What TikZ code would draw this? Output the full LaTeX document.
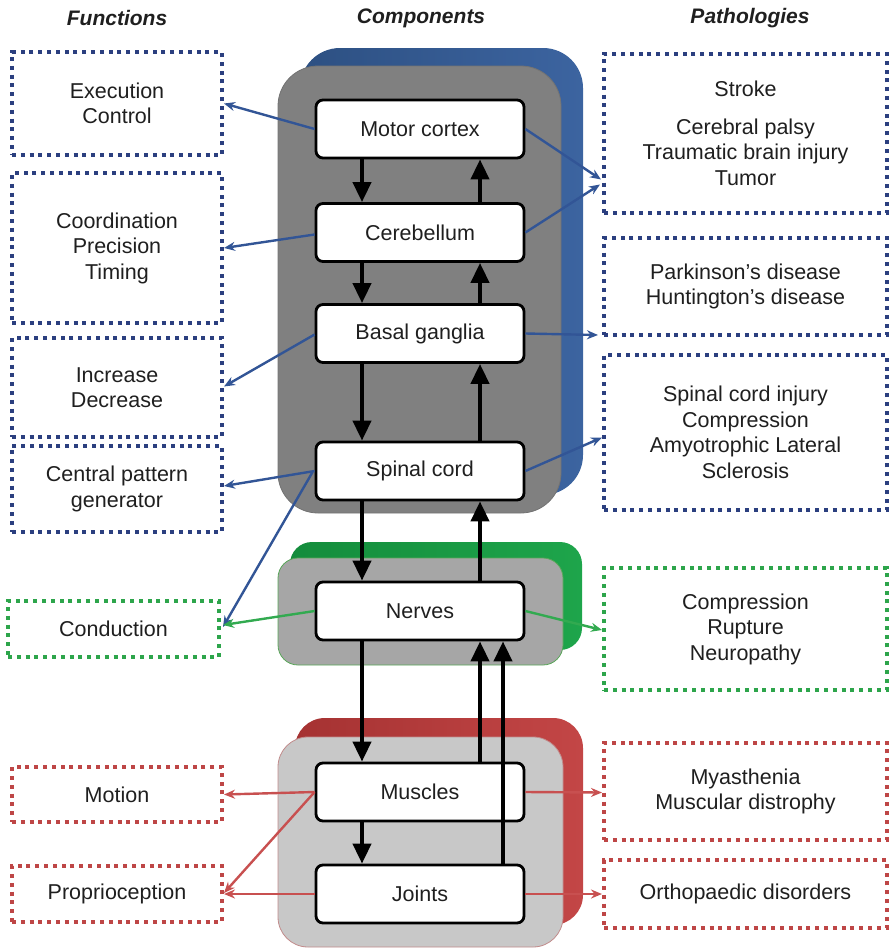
\documentclass[tikz,border=0pt]{standalone}
\usepackage{fontspec}
\setmainfont{Liberation Sans}
\usetikzlibrary{arrows.meta,calc}
\definecolor{dblue}{RGB}{43,63,127}
\definecolor{cblue}{RGB}{50,85,150}
\definecolor{bback}{RGB}{45,80,130}
\definecolor{bbackl}{RGB}{60,100,160}
\definecolor{dgreen}{RGB}{45,165,75}
\definecolor{cgreen}{RGB}{50,170,80}
\definecolor{gback}{RGB}{20,140,60}
\definecolor{gbackl}{RGB}{30,165,75}
\definecolor{dred}{RGB}{190,70,70}
\definecolor{cred}{RGB}{200,80,80}
\definecolor{rback}{RGB}{165,50,50}
\definecolor{rbackl}{RGB}{195,70,70}
\definecolor{gfront}{RGB}{128,128,128}
\definecolor{gfrontg}{RGB}{166,166,166}
\definecolor{gfrontr}{RGB}{200,200,200}
\begin{document}
\begin{tikzpicture}[x=1pt,y=-1pt,
 txt/.style={font=\fontsize{21.5}{25.5}\selectfont, align=center, text=black!88},
 dotbox/.style={txt, fill=white, line width=4pt, dash pattern=on 4pt off 4.8pt, inner sep=0pt},
 comp/.style={txt, draw=black, fill=white, line width=2.8pt, rounded corners=7pt, minimum width=208pt, minimum height=58pt, inner sep=0pt},
 bigarrow/.style={line width=4pt, -{Triangle[width=18pt,length=20pt]}},
 conn/.style={line width=2.4pt, -{Stealth[length=11pt,width=9pt]}},
 hdr/.style={font=\fontsize{21}{25}\selectfont\bfseries\itshape, text=black!88}]
\useasboundingbox (0,0) rectangle (889,948);
% containers
\shade[left color=bback, right color=bbackl, rounded corners=40pt] (300,48) rectangle (583,495);
\filldraw[fill=gfront, draw=black!55, line width=0.8pt, rounded corners=40pt] (278,66) rectangle (561,513);
\shade[left color=gback, right color=gbackl, rounded corners=22pt] (290,542) rectangle (582,650);
\filldraw[fill=gfrontg, draw=green!30!gray, line width=0.8pt, rounded corners=20pt] (278,558) rectangle (563,665);
\shade[left color=rback, right color=rbackl, rounded corners=30pt] (295,718) rectangle (583,925);
\filldraw[fill=gfrontr, draw=red!30!gray!70, line width=0.8pt, rounded corners=30pt] (278,737) rectangle (563,947);
% headers
\node[hdr] (h1) at (117,18) {Functions};
\node[hdr] (h2) at (421,18) {Components};
\node[hdr] (h3) at (750,18) {Pathologies};
% function boxes
\node[dotbox, draw=dblue, minimum width=210pt, minimum height=103pt] (ex) at (117,103.5) {Execution\\Control};
\node[dotbox, draw=dblue, minimum width=210pt, minimum height=150pt] (co) at (117,248) {Coordination\\Precision\\Timing};
\node[dotbox, draw=dblue, minimum width=210pt, minimum height=99pt] (inc) at (117,387.5) {Increase\\Decrease};
\node[dotbox, draw=dblue, minimum width=210pt, minimum height=86pt] (cpg) at (117,489) {Central pattern\\generator};
\node[dotbox, draw=dgreen, minimum width=211pt, minimum height=56pt] (con) at (113.5,629) {Conduction};
\node[dotbox, draw=dred, minimum width=210pt, minimum height=55pt] (mo) at (117,794.5) {Motion};
\node[dotbox, draw=dred, minimum width=210pt, minimum height=56pt] (pr) at (117,894) {Proprioception};
% pathology boxes
\node[dotbox, draw=dblue, minimum width=283pt, minimum height=159pt] (st) at (745.5,133.5) {Stroke\\[12pt]Cerebral palsy\\Traumatic brain injury\\Tumor};
\node[dotbox, draw=dblue, minimum width=283pt, minimum height=97pt] (pk) at (745.5,286.5) {Parkinson’s disease\\Huntington’s disease};
\node[dotbox, draw=dblue, minimum width=283pt, minimum height=155pt] (sc) at (745.5,432.5) {Spinal cord injury\\Compression\\Amyotrophic Lateral\\Sclerosis};
\node[dotbox, draw=dgreen, minimum width=283pt, minimum height=122pt] (cm) at (745.5,629) {Compression\\Rupture\\Neuropathy};
\node[dotbox, draw=dred, minimum width=283pt, minimum height=97pt] (my) at (745.5,791.5) {Myasthenia\\Muscular distrophy};
\node[dotbox, draw=dred, minimum width=283pt, minimum height=68pt] (or) at (745.5,894) {Orthopaedic disorders};
% components
\node[comp] (mc) at (420,129) {Motor cortex};
\node[comp] (cb) at (420,232.5) {Cerebellum};
\node[comp] (bg) at (420,333.5) {Basal ganglia};
\node[comp] (sp) at (420,471) {Spinal cord};
\node[comp] (nv) at (420,611) {Nerves};
\node[comp] (mu) at (420,792) {Muscles};
\node[comp] (jo) at (420,894) {Joints};
\coordinate (dx) at (362,0);
\coordinate (ux) at (480,0);
\coordinate (ux2) at (503,0);
% vertical arrows
\draw[bigarrow] (mc.south -| dx) -- (cb.north -| dx);
\draw[bigarrow] (cb.south -| dx) -- (bg.north -| dx);
\draw[bigarrow] (bg.south -| dx) -- (sp.north -| dx);
\draw[bigarrow] (sp.south -| dx) -- (nv.north -| dx);
\draw[bigarrow] (nv.south -| dx) -- (mu.north -| dx);
\draw[bigarrow] (mu.south -| dx) -- (jo.north -| dx);
\draw[bigarrow] (cb.north -| ux) -- (mc.south -| ux);
\draw[bigarrow] (bg.north -| ux) -- (cb.south -| ux);
\draw[bigarrow] (sp.north -| ux) -- (bg.south -| ux);
\draw[bigarrow] (nv.north -| ux) -- (sp.south -| ux);
\draw[bigarrow] (mu.north -| ux) -- (nv.south -| ux);
\draw[bigarrow] (jo.north -| ux2) -- (nv.south -| ux2);
% blue connectors
\draw[conn, cblue] (mc.west) -- (ex.east);
\draw[conn, cblue] (mc.east) -- ($(st.west)+(-1,46)$);
\draw[conn, cblue] (cb.east) -- ($(st.west)+(-2,51)$);
\draw[conn, cblue] ($(cb.west)+(0,2)$) -- (co.east);
\draw[conn, cblue] ($(bg.west)+(0,1)$) -- ($(inc.east)+(0,-1)$);
\draw[conn, cblue] (bg.east) -- ($(pk.south west)+(-4,-2)$);
\draw[conn, cblue] (sp.west) -- ($(cpg.east)+(0,-3)$);
\draw[conn, cblue] ($(sp.west)+(-2,1)$) -- ($(con.east)+(2,-2)$);
\draw[conn, cblue] (sp.east) -- ($(sc.west)+(0,5)$);
% green connectors
\draw[conn, cgreen] (nv.west) -- ($(con.east)+(2,-4)$);
\draw[conn, cgreen] (nv.east) -- ($(cm.west)+(0,1)$);
% red connectors
\draw[conn, cred] (mu.west) -- (mo.east);
\draw[conn, cred] (mu.west) -- ($(pr.east)+(0,-1)$);
\draw[conn, cred] (jo.west) -- (pr.east);
\draw[conn, cred] (mu.east) -- ($(my.west)+(0,1)$);
\draw[conn, cred] (jo.east) -- (or.west);
\end{tikzpicture}
\end{document}
